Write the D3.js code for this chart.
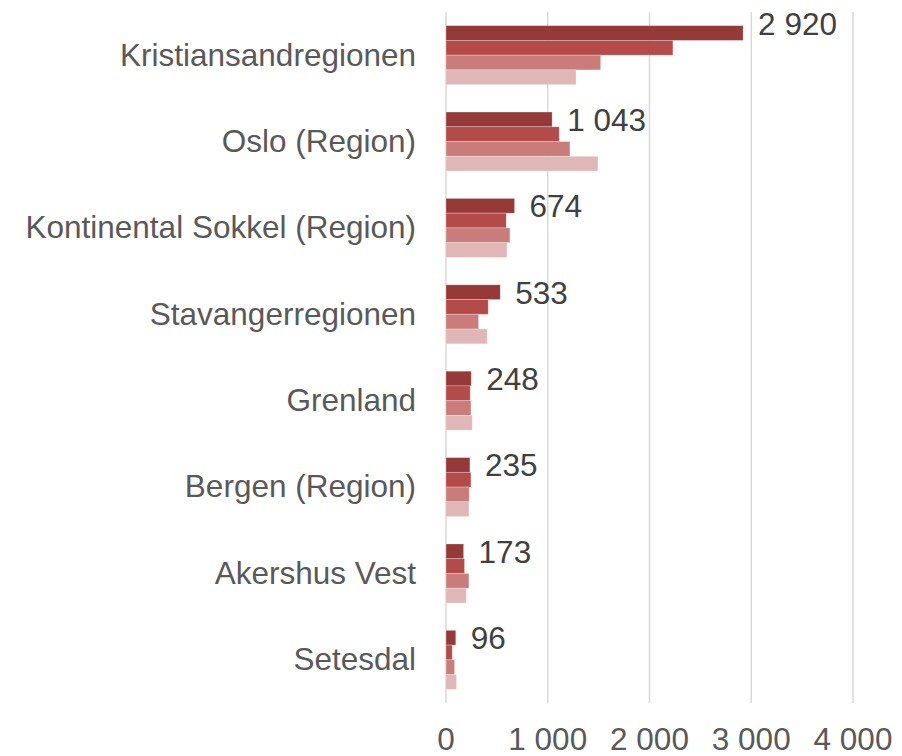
<!DOCTYPE html>
<html>
<head>
<meta charset="utf-8">
<script src="https://cdn.jsdelivr.net/npm/d3@7"></script>
<style>
  body { margin: 0; background: #fff; }
  text { font-family: 'Liberation Sans', Arial, sans-serif; }
</style>
</head>
<body>
<div id="chart"></div>
<script>
const categories = ['Kristiansandregionen', 'Oslo (Region)', 'Kontinental Sokkel (Region)', 'Stavangerregionen', 'Grenland', 'Bergen (Region)', 'Akershus Vest', 'Setesdal']
const series = ['s1', 's2', 's3', 's4']
const s1 = [2920, 1043, 674, 533, 248, 235, 173, 96]
const s2 = [2230, 1113, 592, 415, 238, 245, 182, 61]
const s3 = [1520, 1218, 628, 320, 245, 228, 225, 84]
const s4 = [1278, 1493, 599, 405, 258, 225, 199, 103]
const ticks = [0, 1000, 2000, 3000, 4000]

const colors = ['#953a39', '#b24b49', '#ca7c7b', '#e0b6b6']
const values = [s1, s2, s3, s4]

const dimensions = { width: 902, height: 756 }
const fontSize = '31.5px'
const fmt = v => d3.format(',')(v).replace(/,/g, ' ')

const svg = d3.select('#chart').append('svg')
  .attr('width', dimensions.width)
  .attr('height', dimensions.height)

const x = d3.scaleLinear().domain([0, 4000]).range([446, 853])
const y0 = d3.scaleBand().domain(categories).range([12, 703])
  .paddingInner(0.317).paddingOuter(0.158)
const y1 = d3.scaleBand().domain(series).range([0, y0.bandwidth()])

// gridlines
svg.append('g').selectAll('line')
  .data(ticks)
  .join('line')
  .attr('x1', d => x(d)).attr('x2', d => x(d))
  .attr('y1', 12).attr('y2', 703)
  .attr('stroke', '#d9d9d9')
  .attr('stroke-width', 1.5)

// tick labels
svg.append('g').selectAll('text')
  .data(ticks)
  .join('text')
  .attr('x', d => x(d))
  .attr('y', 750)
  .attr('text-anchor', 'middle')
  .attr('fill', '#595959')
  .style('font-size', fontSize)
  .text(d => fmt(d))

// bars
const groups = svg.append('g').selectAll('g')
  .data(categories)
  .join('g')
  .attr('transform', d => `translate(0, ${y0(d)})`)

groups.selectAll('rect')
  .data((c, ci) => series.map((s, si) => ({ s, si, v: values[si][ci] })))
  .join('rect')
  .attr('x', x(0))
  .attr('y', d => y1(d.s))
  .attr('width', d => x(d.v) - x(0))
  .attr('height', y1.bandwidth())
  .attr('fill', d => colors[d.si])
  .attr('stroke', '#fff')
  .attr('stroke-opacity', 0.35)
  .attr('stroke-width', 0.75)

// value labels on first series (the top one sits a bit higher, like the original)
groups.append('text')
  .attr('x', (c, ci) => x(s1[ci]) + 15)
  .attr('y', (c, ci) => y1('s1') + y1.bandwidth() / 2 - (ci === 0 ? 9 : 0))
  .attr('dy', '0.36em')
  .attr('fill', '#404040')
  .style('font-size', fontSize)
  .text((c, ci) => fmt(s1[ci]))

// category labels
svg.append('g').selectAll('text')
  .data(categories)
  .join('text')
  .attr('x', 416)
  .attr('y', d => y0(d) + y0.bandwidth() / 2)
  .attr('dy', '0.33em')
  .attr('text-anchor', 'end')
  .attr('fill', '#595959')
  .style('font-size', fontSize)
  .text(d => d)
</script>
</body>
</html>
